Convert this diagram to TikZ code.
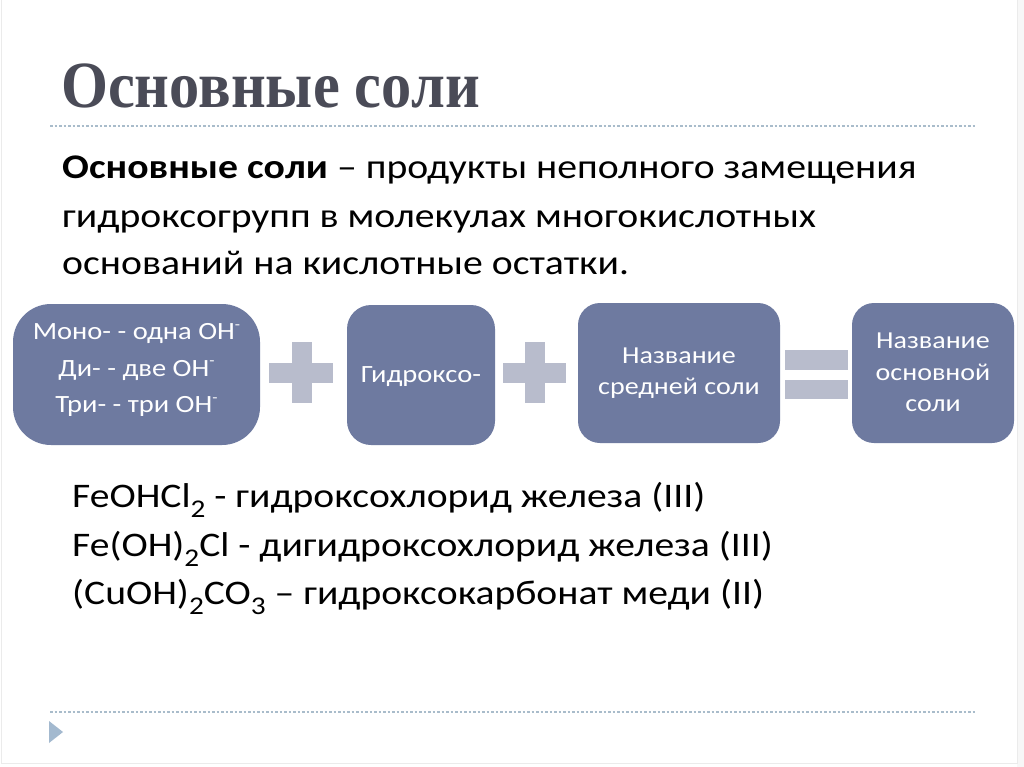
\documentclass[tikz,border=0pt]{standalone}
\usepackage{fontspec}
\setmainfont{Carlito}
\newfontfamily\titlefont{Liberation Serif}
\usetikzlibrary{positioning}
\definecolor{boxblue}{HTML}{6E7AA0}
\definecolor{signgray}{HTML}{B8BCCC}
\definecolor{titlegray}{HTML}{4A4B57}
\definecolor{rulecol}{HTML}{A9BCCB}
\definecolor{tricol}{HTML}{A3B9CF}
\newcommand\vsq[1]{\scalebox{1}[0.87]{#1}}
\newcommand\subs[1]{\raisebox{-0.3em}{\scalebox{0.74}{#1}}}
\newcommand\sups[1]{\raisebox{0.42em}{\scalebox{0.6}{#1}}}
\newcommand\lines[1]{\vsq{\begin{tabular}{@{}c@{}}#1\end{tabular}}}
\tikzset{
  stepbox/.style={text=white, align=center, inner sep=0pt},
  onefont/.style={font=\fontsize{28.5}{42}\selectfont},
  twofont/.style={font=\fontsize{28}{36}\selectfont},
  sign/.style={fill=signgray, draw=none},
  rulestyle/.style={draw=rulecol, line width=1.3pt, dash pattern=on 2.5pt off 2pt},
  bodytext/.style={anchor=base west, inner sep=0pt, font=\fontsize{39.7}{48}\selectfont, text=black},
  formula/.style={anchor=base west, inner sep=0pt, font=\fontsize{39.6}{48}\selectfont, text=black},
}
\begin{document}
\begin{tikzpicture}[x=1pt,y=-1pt]
\useasboundingbox (0,0) rectangle (1024,767);
\fill[white] (0,0) rectangle (1024,767);
\fill[black!3] (1017,0) rectangle (1024,767);
\draw[black!8, line width=0.8pt] (1,0) -- (1,763) -- (1017,763) -- (1017,0);
% title
\node[anchor=base west, inner sep=0pt, text=titlegray] (title) at (61,108)
  {\scalebox{0.915}[1]{\titlefont\bfseries\fontsize{66}{70}\selectfont Основные соли}};
\coordinate (r1a) at (50,126);
\coordinate (r1b) at (975,126);
\draw[rulestyle] (r1a) -- (r1b);
% body
\node[bodytext] (b1) at (62,179) {\vsq{\textbf{Основные соли} – продукты неполного замещения}};
\node[bodytext] (b2) at (62,227) {\vsq{гидроксогрупп в молекулах многокислотных}};
\node[bodytext] (b3) at (62,274) {\vsq{оснований на кислотные остатки.}};
% boxes
\path[fill=boxblue, rounded corners=38pt] (13,304) rectangle (260,445);
\node[stepbox, onefont] (box1) at (136.5,369) {\lines{Моно- - одна OH\sups{-}\\Ди- - две OH\sups{-}\\Три- - три OH\sups{-}}};
\path[fill=boxblue, rounded corners=24pt] (347,305) rectangle (495,445);
\node[stepbox, onefont] (box2) at (421,377) {\vsq{Гидроксо-}};
\path[fill=boxblue, rounded corners=22pt] (578,303) rectangle (780,443);
\node[stepbox, twofont] (box3) at (679,373) {\lines{Название\\средней соли}};
\path[fill=boxblue, rounded corners=22pt] (852,303) rectangle (1014,443);
\node[stepbox, twofont] (box4) at (933,374) {\lines{Название\\основной\\соли}};
% plus 1
\fill[sign] (269,363) rectangle (333,383);
\fill[sign] (292,342) rectangle (312,403);
% plus 2
\fill[sign] (503,363) rectangle (566,383);
\fill[sign] (525,342) rectangle (545,403);
% equals
\fill[sign] (785,350) rectangle (848,370);
\fill[sign] (785,380) rectangle (848,399);
% formulas
\node[formula] (f1) at (72,507) {\vsq{FeOHCl\subs{2} - гидроксохлорид железа (III)}};
\node[formula] (f2) at (72,556) {\vsq{Fe(OH)\subs{2}Cl - дигидроксохлорид железа (III)}};
\node[formula] (f3) at (72,604) {\vsq{(CuOH)\subs{2}CO\subs{3} – гидроксокарбонат меди (II)}};
% bottom
\coordinate (r2a) at (50,712);
\coordinate (r2b) at (975,712);
\draw[rulestyle] (r2a) -- (r2b);
\fill[tricol] (49,721) -- (63,732) -- (49,743) -- cycle;
\end{tikzpicture}
\end{document}
